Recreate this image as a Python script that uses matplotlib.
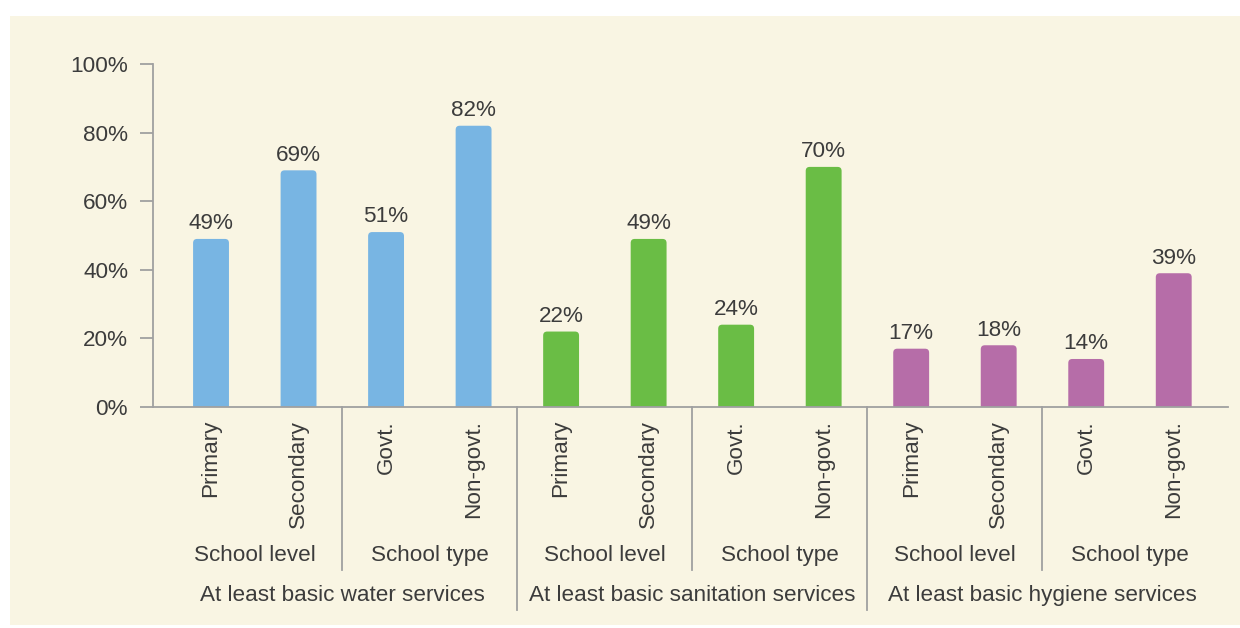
import matplotlib
matplotlib.use("Agg")
import matplotlib.pyplot as plt
from matplotlib.patches import Rectangle, FancyBboxPatch
from matplotlib.ticker import FuncFormatter
import matplotlib.transforms as mtransforms

# Data
services = ["At least basic water services",
            "At least basic sanitation services",
            "At least basic hygiene services"]
subgroups = ["School level", "School type"]
categories = ["Primary", "Secondary", "Govt.", "Non-govt."]
water = [49, 69, 51, 82]
sanitation = [22, 49, 24, 70]
hygiene = [17, 18, 14, 39]
service_colors = ["#78B5E3", "#6ABD45", "#B66DA8"]
yticks = [0, 20, 40, 60, 80, 100]

TEXT = "#3C3C3C"
AXIS = "#A0A0A0"
PANEL = "#F9F5E3"
FS = 16.2

plt.rcParams["font.family"] = ["Liberation Sans", "DejaVu Sans"]

W, H = 1240, 628
fig = plt.figure(figsize=(W / 100, H / 100), dpi=100, facecolor="white")

# cream panel behind the chart
fig.patches.append(Rectangle((10 / W, 3 / H), 1 - 10 / W, (625 - 16) / H,
                             transform=fig.transFigure, facecolor=PANEL,
                             edgecolor="none", zorder=-10))

ax_l, ax_r, ax_t, ax_b = 153, 1228, 64, 407
ax = fig.add_axes([ax_l / W, (H - ax_b) / H, (ax_r - ax_l) / W, (ax_b - ax_t) / H])
ax.set_facecolor("none")
ax.set_zorder(1)

series = [water, sanitation, hygiene]
values = [v for s in series for v in s]
colors = [c for c, s in zip(service_colors, series) for _ in s]
labels = categories * len(series)
xs = list(range(len(values)))

ax.set_xlim(-0.663, 11.62)
ax.set_ylim(0, 100)

bar_w = 0.41
bars = ax.bar(xs, values, width=bar_w, color=colors, alpha=0)

# rounded tops: draw each bar as a rounded box that starts below the axis
px_per_x = (ax_r - ax_l) / (11.62 + 0.663)
px_per_y = (ax_b - ax_t) / 100.0
aspect = px_per_x / px_per_y
r = 4 / px_per_x
for b, c in zip(bars, colors):
    x0 = b.get_x()
    h = b.get_height()
    p = FancyBboxPatch((x0, -5), bar_w, h + 5,
                       boxstyle=f"round,pad=0,rounding_size={r}",
                       mutation_aspect=aspect, facecolor=c, edgecolor="none",
                       zorder=2)
    ax.add_patch(p)

for x, v in zip(xs, values):
    ax.annotate(f"{v}%", (x, v), xytext=(0, 7), textcoords="offset points",
                ha="center", va="baseline", fontsize=FS, color=TEXT)

# axes styling
for s in ["top", "right"]:
    ax.spines[s].set_visible(False)
for s in ["left", "bottom"]:
    ax.spines[s].set_color(AXIS)
    ax.spines[s].set_linewidth(1.3)
ax.set_yticks(yticks)
ax.yaxis.set_major_formatter(FuncFormatter(lambda v, p: f"{v:.0f}%"))
ax.tick_params(axis="y", length=9.4, width=1.3, color=AXIS, pad=8.6,
               labelsize=FS, labelcolor=TEXT)
ax.set_xticks([])

trans = mtransforms.blended_transform_factory(ax.transData, ax.transAxes)
ax_h = ax_b - ax_t

# rotated category labels
for x, lab in zip(xs, labels):
    ax.text(x, -(420 - ax_b) / ax_h, lab, rotation=90, ha="center", va="top",
            fontsize=FS, color=TEXT, transform=trans)

# subgroup and service labels with dividers
for g, name in enumerate(services):
    base = 4 * g
    for k, sg in enumerate(subgroups):
        ax.text(base + 2 * k + 0.5, -(561 - ax_b) / ax_h, sg, ha="center",
                va="baseline", fontsize=FS, color=TEXT, transform=trans)
    ax.text(base + 1.5, -(601 - ax_b) / ax_h, name, ha="center",
            va="baseline", fontsize=FS, color=TEXT, transform=trans)
    ax.plot([base + 1.5, base + 1.5], [0, -(570 - ax_b) / ax_h], color=AXIS,
            lw=1.3, transform=trans, clip_on=False)
    if g < len(services) - 1:
        ax.plot([base + 3.5, base + 3.5], [0, -(610 - ax_b) / ax_h],
                color=AXIS, lw=1.3, transform=trans, clip_on=False)

fig.savefig("out.png", dpi=100, facecolor="white")
